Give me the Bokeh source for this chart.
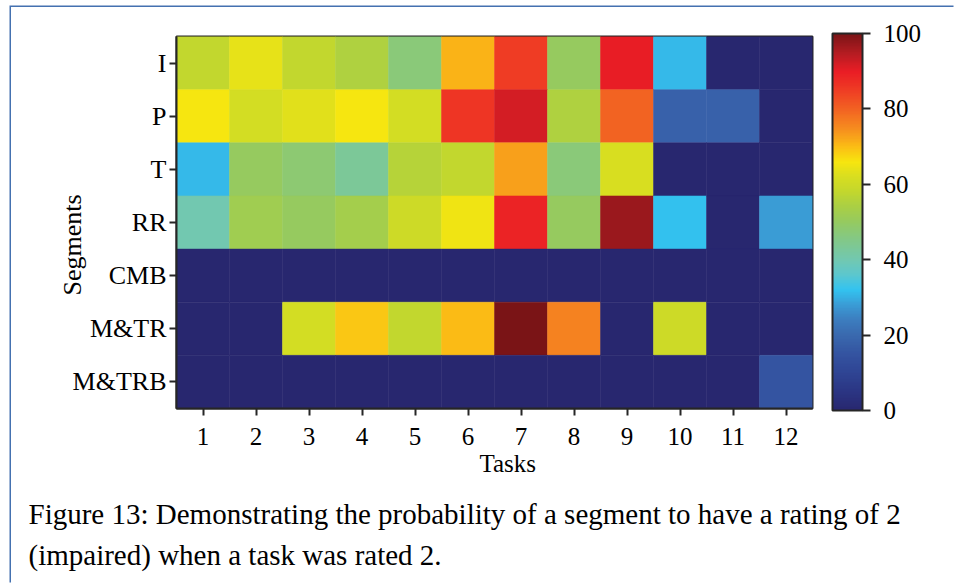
import numpy as np
from bokeh.plotting import figure
from bokeh.models import (LinearColorMapper, ColorBar, FixedTicker, Title,
                          ColumnDataSource, Range1d)
from bokeh.embed import file_html
from bokeh.resources import INLINE

# ---------------- data ----------------
segments = ["I", "P", "T", "RR", "CMB", "M&TR", "M&TRB"]
tasks = [1, 2, 3, 4, 5, 6, 7, 8, 9, 10, 11, 12]
row_I = [58, 64, 58, 55, 47, 71, 85, 50, 90, 31, 0, 0]
row_P = [66, 61, 63, 66, 61, 86, 92, 55, 80, 18, 18, 0]
row_T = [31, 50, 48, 43, 56, 58, 73, 47, 62, 0, 0, 0]
row_RR = [40, 52, 50, 53, 60, 65, 89, 50, 97, 32, 0, 28]
row_CMB = [0, 0, 0, 0, 0, 0, 0, 0, 0, 0, 0, 0]
row_MTR = [0, 0, 61, 69, 58, 70, 100, 76, 0, 60, 0, 0]
row_MTRB = [0, 0, 0, 0, 0, 0, 0, 0, 0, 0, 0, 15]
colorbar_ticks = [0, 20, 40, 60, 80, 100]
x_title = "Tasks"
y_title = "Segments"
caption_1 = "Figure 13: Demonstrating the probability of a segment to have a rating of 2"
caption_2 = "(impaired) when a task was rated 2."

rows = [row_I, row_P, row_T, row_RR, row_CMB, row_MTR, row_MTRB]

# ---------------- colour map (style) ----------------
anchors = [(0, "#28276f"), (5, "#2b3684"), (10, "#2f4594"), (15, "#3454a1"),
           (20, "#3a6aaf"), (24, "#3c7dbf"), (28, "#3a9dd6"), (32, "#33c3f0"),
           (36, "#5cc7ce"), (40, "#72c8b0"), (45, "#82c88a"), (50, "#95ca60"),
           (54, "#a9cf45"), (58, "#c2d72e"), (62, "#d8de20"), (66, "#f7e60f"),
           (70, "#fbbd15"), (75, "#f68b1f"), (80, "#f26322"), (85, "#ef3d24"),
           (90, "#ea1d25"), (95, "#b41c22"), (100, "#7a1416")]


def hex2rgb(h):
    return [int(h[i:i + 2], 16) for i in (1, 3, 5)]


av = np.array([a[0] for a in anchors], dtype=float)
ac = np.array([hex2rgb(a[1]) for a in anchors], dtype=float)
palette = []
for g in np.linspace(0, 100, 256):
    rgb = [int(round(np.interp(g, av, ac[:, k]))) for k in range(3)]
    palette.append("#%02x%02x%02x" % tuple(rgb))

mapper = LinearColorMapper(palette=palette, low=0, high=100)

xs, ys, vs = [], [], []
n = len(segments)
for i, row in enumerate(rows):
    for j, v in enumerate(row):
        xs.append(tasks[j])
        ys.append(n - i)
        vs.append(v)
src = ColumnDataSource(dict(x=xs, y=ys, v=vs))

FONT = "Liberation Serif"
DARK = "#262626"

p = figure(frame_width=636, frame_height=372,
           x_range=Range1d(0.5, len(tasks) + 0.5), y_range=Range1d(0.5, n + 0.5),
           output_backend="svg", toolbar_location=None,
           min_border_left=165, min_border_top=29, min_border_right=143,
           min_border_bottom=176,
           styles={"margin-left": "11px", "margin-top": "7px",
                   "box-shadow": "-1.5px -1.5px 0 0 #4471b0"})

p.rect(x="x", y="y", width=1, height=1, source=src,
       fill_color={"field": "v", "transform": mapper},
       line_color={"field": "v", "transform": mapper}, line_width=0.5)

p.xgrid.visible = False
p.ygrid.visible = False
p.outline_line_color = DARK
p.outline_line_width = 2
p.outline_line_alpha = 1

for ax in (p.xaxis[0], p.yaxis[0]):
    ax.axis_line_color = DARK
    ax.axis_line_width = 2
    ax.major_tick_line_color = DARK
    ax.major_tick_line_width = 2
    ax.major_tick_in = 0
    ax.major_tick_out = 7
    ax.minor_tick_line_color = None
    ax.major_label_text_font = FONT
    ax.major_label_text_color = "black"

p.xaxis.ticker = FixedTicker(ticks=tasks)
p.xaxis.major_label_standoff = 12
p.xaxis.major_label_text_font_size = "25px"
p.yaxis.ticker = FixedTicker(ticks=list(range(1, n + 1)))
p.yaxis.major_label_overrides = {n - i: s for i, s in enumerate(segments)}
p.yaxis.major_label_standoff = 3
p.yaxis.major_label_text_font_size = "26px"

cb = ColorBar(color_mapper=mapper, ticker=FixedTicker(ticks=colorbar_ticks),
              width=30, height=377, location=(20, -2), margin=0, padding=0,
              bar_line_color=DARK, bar_line_width=2,
              major_tick_in=0, major_tick_out=8, major_tick_line_color=DARK,
              major_tick_line_width=2, minor_tick_line_color=None,
              label_standoff=13, major_label_text_font=FONT,
              major_label_text_font_size="25px", major_label_text_color="black",
              background_fill_color=None, border_line_color=None)
p.add_layout(cb, "right")


def title(text, size, align, offset, standoff):
    return Title(text=text, align=align, offset=offset, standoff=standoff,
                 text_font=FONT, text_font_size=size, text_font_style="normal",
                 text_color="black")


p.add_layout(title(y_title, "26px", "left", 113, -34), "left")
p.add_layout(title(x_title, "25px", "left", 303, 0), "below")
p.add_layout(title(caption_1, "29px", "left", -148, 39), "below")
p.add_layout(title(caption_2, "29px", "left", -148, -26), "below")

open("out.html", "w").write(file_html(p, INLINE))
